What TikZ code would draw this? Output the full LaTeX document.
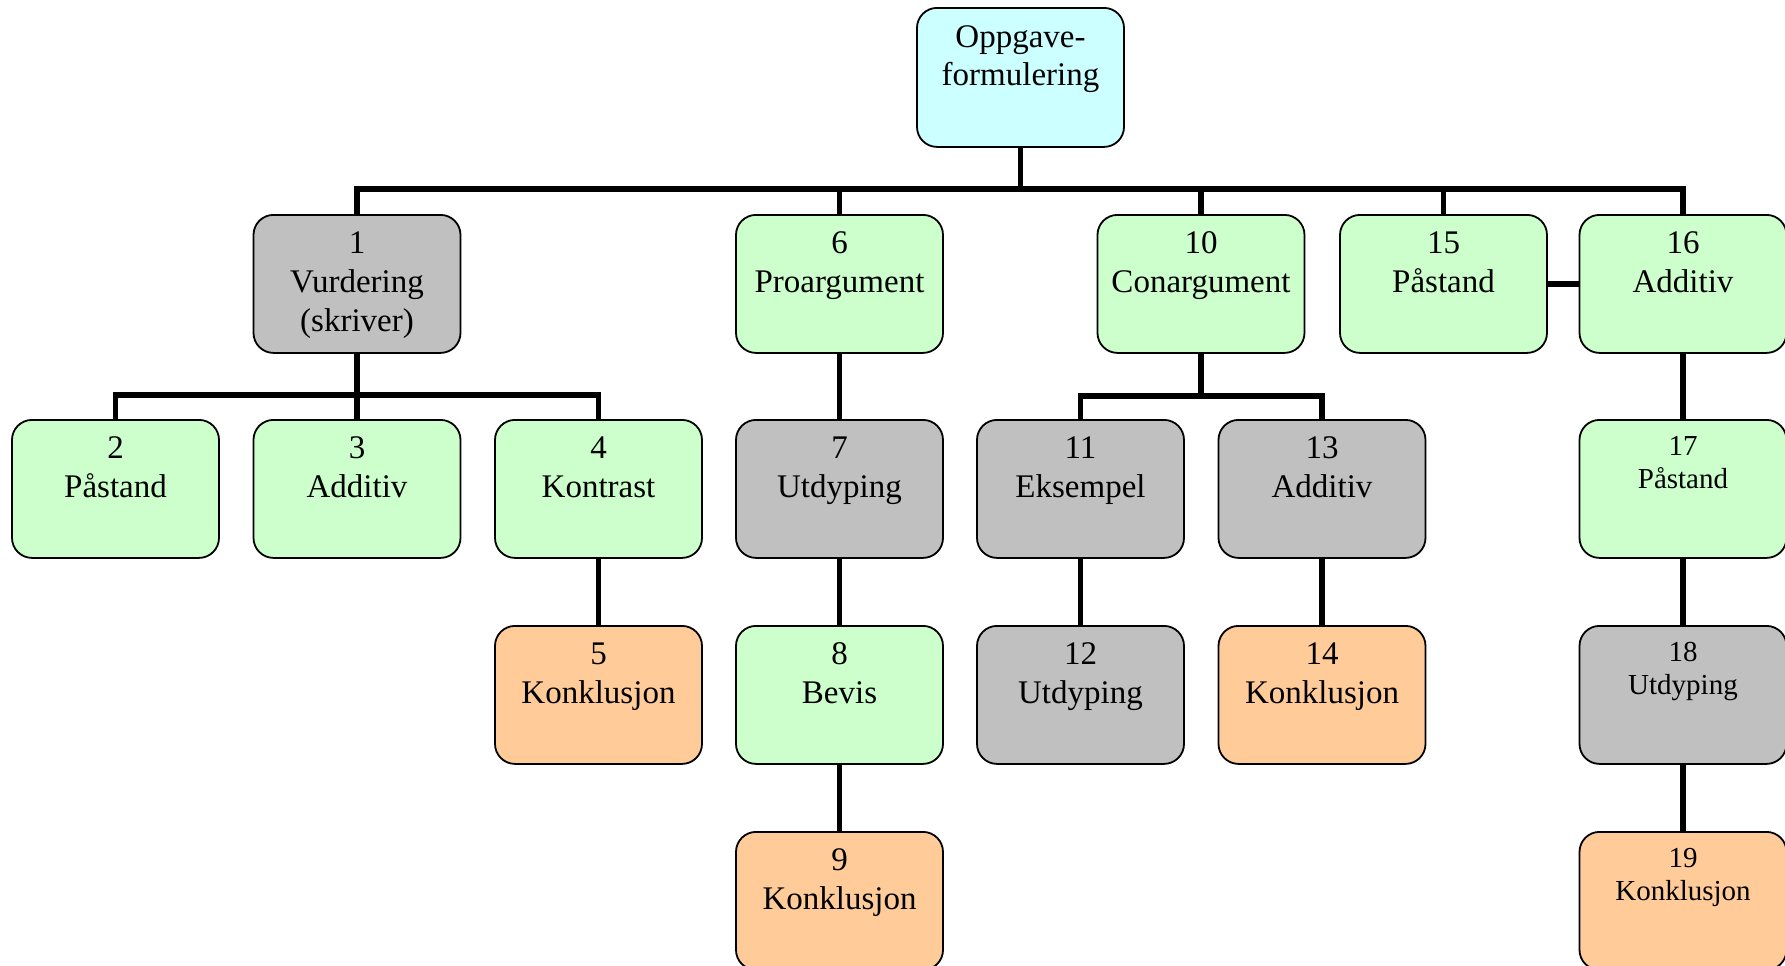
\documentclass[tikz,border=0pt]{standalone}
\usepackage{fontspec}
\setmainfont{Liberation Serif}
\definecolor{cardcyan}{HTML}{CCFFFF}
\definecolor{cardgreen}{HTML}{CCFFCC}
\definecolor{cardgray}{HTML}{C0C0C0}
\definecolor{cardorange}{HTML}{FFCC99}
\tikzset{
  card/.style={draw, line width=0.9pt, rounded corners=10pt, inner sep=0pt,
    text width=103.5pt, align=center, anchor=north,
    font=\fontsize{16.5}{19.5}\selectfont, text height=19.5pt, text depth=49.5pt},
  small/.style={font=\fontsize{14.5}{16.5}\selectfont, text height=18pt, text depth=51pt},
  topic/.style={card, fill=cardcyan, font=\fontsize{16.5}{19}\selectfont, text height=20pt, text depth=49.5pt},
  claim/.style={card, fill=cardgreen},
  detail/.style={card, fill=cardgray},
  concl/.style={card, fill=cardorange},
  conn/.style={line width=2.6pt}
}
\begin{document}
\begin{tikzpicture}[x=0.5pt, y=-0.5pt]
\useasboundingbox (0,0) rectangle (1785,965);
\clip (0,0) rectangle (1785,965);

% column centres and row tops
\def\cA{115.5}\def\cB{357}\def\cC{598.5}\def\cD{839.5}\def\cE{1080.5}
\def\cEF{1201}\def\cF{1322}\def\cFG{1443.5}\def\cH{1683}
\def\rA{214}\def\rB{419}\def\rC{625}\def\rD{831}

\node[topic] (top) at (1020.5,7) {Oppgave-\\formulering};

\node[detail] (n1)  at (\cB,\rA)  {1\\Vurdering\\(skriver)};
\node[claim]  (n6)  at (\cD,\rA)  {6\\Proargument};
\node[claim]  (n10) at (\cEF,\rA) {10\\Conargument};
\node[claim]  (n15) at (\cFG,\rA) {15\\Påstand};
\node[claim]  (n16) at (\cH,\rA)  {16\\Additiv};

\node[claim]  (n2)  at (\cA,\rB) {2\\Påstand};
\node[claim]  (n3)  at (\cB,\rB) {3\\Additiv};
\node[claim]  (n4)  at (\cC,\rB) {4\\Kontrast};
\node[detail] (n7)  at (\cD,\rB) {7\\Utdyping};
\node[detail] (n11) at (\cE,\rB) {11\\Eksempel};
\node[detail] (n13) at (\cF,\rB) {13\\Additiv};
\node[claim, small] (n17) at (\cH,\rB) {17\\Påstand};

\node[concl]  (n5)  at (\cC,\rC) {5\\Konklusjon};
\node[claim]  (n8)  at (\cD,\rC) {8\\Bevis};
\node[detail] (n12) at (\cE,\rC) {12\\Utdyping};
\node[concl]  (n14) at (\cF,\rC) {14\\Konklusjon};
\node[detail, small] (n18) at (\cH,\rC) {18\\Utdyping};

\node[concl]  (n9)  at (\cD,\rD) {9\\Konklusjon};
\node[concl, small] (n19) at (\cH,\rD) {19\\Konklusjon};

% bus lines
\coordinate (busTop) at (0,189);
\coordinate (busOne) at (0,395);
\coordinate (busTen) at (0,396);

\draw[conn] (top.south) -- (top.south |- busTop);
\draw[conn] (n1.north) |- (n16.north |- busTop) -- (n16.north);
\draw[conn] (n6.north) -- (n6.north |- busTop);
\draw[conn] (n10.north) -- (n10.north |- busTop);
\draw[conn] (n15.north) -- (n15.north |- busTop);

\draw[conn] (n1.south) -- (n1.south |- busOne);
\draw[conn] (n2.north) |- (n4.north |- busOne) -- (n4.north);
\draw[conn] (n3.north) -- (n3.north |- busOne);

\draw[conn] (n10.south) -- (n10.south |- busTen);
\draw[conn] (n11.north) |- (n13.north |- busTen) -- (n13.north);

\draw[conn] (n4) -- (n5);
\draw[conn] (n6) -- (n7);
\draw[conn] (n7) -- (n8);
\draw[conn] (n8) -- (n9);
\draw[conn] (n11) -- (n12);
\draw[conn] (n13) -- (n14);
\draw[conn] (n15) -- (n16);
\draw[conn] (n16) -- (n17);
\draw[conn] (n17) -- (n18);
\draw[conn] (n18) -- (n19);
\end{tikzpicture}
\end{document}
